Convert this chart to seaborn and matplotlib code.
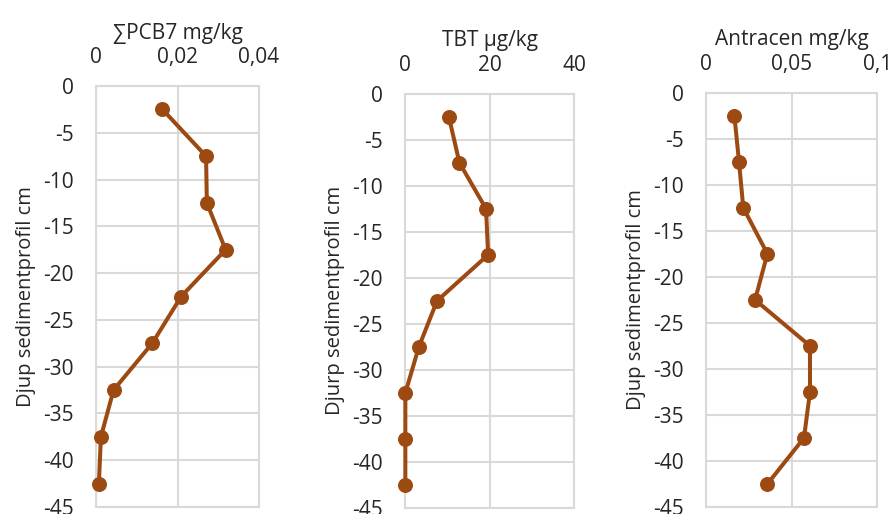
import matplotlib
matplotlib.use("Agg")
import matplotlib.pyplot as plt
import seaborn as sns
from matplotlib.ticker import FuncFormatter

# Depths (cm, negative downwards) for each sediment slice
depth = [-2.5, -7.5, -12.5, -17.5, -22.5, -27.5, -32.5, -37.5, -42.5]

# Concentrations
pcb7 = [0.0163, 0.0270, 0.0272, 0.0318, 0.0209, 0.0138, 0.0043, 0.0012, 0.0007]
tbt = [10.3, 12.8, 19.1, 19.6, 7.5, 3.2, 0.0, 0.0, 0.0]
antracen = [0.0164, 0.0191, 0.0216, 0.0357, 0.0285, 0.0606, 0.0606, 0.0571, 0.0357]

titles = ["∑PCB7 mg/kg", "TBT µg/kg", "Antracen mg/kg"]
ylabels = ["Djup sedimentprofil cm", "Djurp sedimentprofil cm", "Djup sedimentprofil cm"]
xticks = [[0, 0.02, 0.04], [0, 20, 40], [0, 0.05, 0.1]]
xlims = [(0, 0.04), (0, 40), (0, 0.1)]
yticks = [0, -5, -10, -15, -20, -25, -30, -35, -40, -45]

sns.set_style("white")
plt.rcParams["font.family"] = ["Open Sans", "DejaVu Sans"]

color = "#9c4a12"
gridcol = "#d9d9d9"

fig = plt.figure(figsize=(8.95, 5.14), dpi=100)
# axes rectangles [left, bottom, width, height]
rects = [[0.1073, 0.0136, 0.1821, 0.8191],
         [0.4529, 0.0117, 0.1888, 0.8060],
         [0.7892, 0.0136, 0.1911, 0.8061]]


def comma(v, pos):
    return ("%g" % v).replace(".", ",")


def hyphen(v, pos):
    return "%g" % v


for i, vals in enumerate([pcb7, tbt, antracen]):
    ax = fig.add_axes(rects[i])
    sns.lineplot(x=vals, y=depth, orient="y", estimator=None, sort=True,
                 color=color, linewidth=2.9, marker="o", markersize=10,
                 markeredgecolor=color, ax=ax, zorder=3, clip_on=False)
    ax.set_xlim(*xlims[i])
    ax.set_ylim(-45, 0)
    ax.set_xticks(xticks[i])
    ax.set_yticks(yticks)
    ax.xaxis.set_major_formatter(FuncFormatter(comma))
    ax.yaxis.set_major_formatter(FuncFormatter(hyphen))
    ax.xaxis.tick_top()
    ax.xaxis.set_label_position("top")
    ax.set_xlabel(titles[i], fontsize=15, labelpad=6)
    ax.set_ylabel(ylabels[i], fontsize=14.5, labelpad=5)
    ax.tick_params(axis="x", length=0, labelsize=15, pad=13)
    ax.tick_params(axis="y", length=0, labelsize=15, pad=16)
    ax.grid(True, color=gridcol, linewidth=1.5, zorder=0)
    for sp in ax.spines.values():
        sp.set_color(gridcol)
        sp.set_linewidth(1.5)
    ax.set_axisbelow(True)

fig.savefig("out.png", dpi=100)
